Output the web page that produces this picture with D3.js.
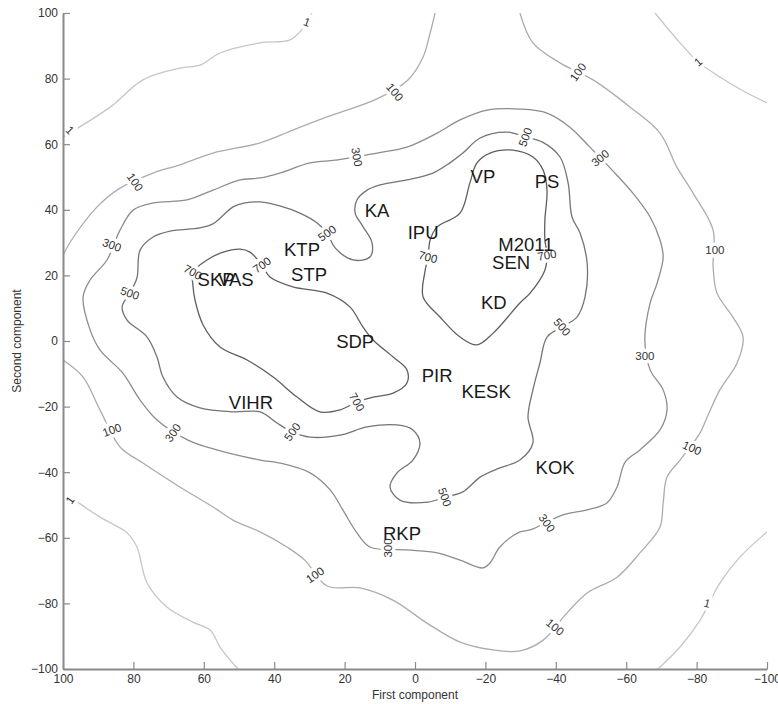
<!DOCTYPE html>
<html>
<head>
<meta charset="utf-8">
<script src="https://cdn.jsdelivr.net/npm/d3@7"></script>
<style>
  body { margin: 0; background: #fff; }
  text { font-family: "Liberation Sans", Arial, Helvetica, sans-serif; }
</style>
</head>
<body>
<div id="chart"></div>
<script>
// Dimensions and margins
const margin = {top: 13, right: 11, bottom: 35, left: 63},
    width = 778 - margin.left - margin.right,
    height = 704 - margin.top - margin.bottom;

// Contour levels
const levels = [1, 100, 300, 500, 700];

// Contour lines, [first component, second component]
const c1TopLeft = [[100,62.2],[86.6,71.3],[77.3,79.6],[66.8,83.2],[61.1,84.1],[55.4,87.8],[44.0,90.9],[35.5,91.8],[31.8,95.4],[29.3,100]];
const c1TopRight = [[-68.2,100],[-75.3,90.9],[-80.4,85.1],[-86.6,80.5],[-93.8,75.9],[-100,72.6]];
const c1BottomLeft = [[100,-46.0],[89.5,-53.7],[81.8,-58.5],[79.0,-62.8],[76.1,-73.8],[70.5,-81.1],[63.1,-85.7],[58.2,-88.1],[55.4,-93.3],[50.3,-100]];
const c1BottomRight = [[-69.0,-100],[-75.3,-93.3],[-81.0,-85.1],[-86.6,-73.8],[-92.3,-65.9],[-100,-58.2]];

const c100Top = [[100,26.2],[97.2,31.4],[90.3,40.9],[83.8,46.6],[74.4,51.2],[66.8,53.7],[57.4,57.3],[44.0,60.4],[34.7,64.3],[25.0,68.3],[10.8,73.8],[2.0,79.6],[-2.3,86.6],[-4.3,93.9],[-5.7,100]];
const c100Ring = [[-29.8,100],[-33.5,90.9],[-41.2,84.8],[-50.6,79.6],[-61.1,71.3],[-69.6,63.4],[-74.4,53.0],[-79.0,45.1],[-84.7,33.8],[-84.7,22.6],[-85.8,14.6],[-90.3,7.3],[-93.2,1.2],[-91.5,-6.7],[-86.6,-14.9],[-83.0,-23.2],[-81.0,-28.0],[-75.3,-36.3],[-71.6,-41.5],[-70.5,-49.4],[-69.6,-56.7],[-63.9,-64.6],[-57.4,-72.0],[-48.9,-76.8],[-43.2,-82.9],[-36.4,-91.2],[-29.8,-94.5],[-22.2,-94.2],[-12.8,-91.8],[-3.4,-86.0],[6.3,-79.0],[15.6,-75.3],[25.0,-74.7],[31.3,-66.8],[36.4,-62.8],[44.0,-58.2],[51.7,-54.6],[57.4,-50.6],[66.8,-44.5],[77.3,-37.2],[83.8,-32.3],[89.5,-21.0],[94.3,-11.0],[100,-5.8]];

const c300 = [[83.8,33.8],[80.1,39.9],[74.4,42.1],[64.8,43.0],[57.4,46.0],[49.7,49.1],[44.0,49.7],[38.4,51.2],[29.8,54.3],[21.9,55.2],[10.8,57.3],[2.3,59.1],[-6.3,63.4],[-12.8,67.4],[-20.5,70.4],[-29.8,70.7],[-37.5,69.5],[-44.0,65.2],[-49.7,59.1],[-56.0,52.1],[-61.9,45.1],[-66.8,37.8],[-69.6,30.8],[-70.5,25.6],[-68.8,17.7],[-66.8,11.6],[-65.3,0.3],[-66.8,-8.8],[-70.5,-14.9],[-71.6,-21.0],[-69.6,-27.1],[-63.9,-33.2],[-59.7,-36.9],[-57.4,-44.5],[-54.5,-49.4],[-48.9,-51.5],[-42.0,-53.0],[-32.7,-57.6],[-29.8,-58.2],[-24.1,-62.8],[-21.3,-67.7],[-19.3,-69.2],[-12.8,-66.8],[-6.3,-64.6],[2.3,-63.7],[12.8,-62.8],[16.5,-58.5],[20.5,-51.5],[24.1,-45.4],[29.8,-40.2],[38.4,-37.2],[44.0,-36.3],[56.3,-33.2],[64.5,-30.2],[73.3,-24.1],[78.1,-18.0],[83.0,-9.8],[89.5,-2.7],[92.3,3.4],[94.3,13.4],[92.3,18.6],[87.5,24.7]];

const c500 = [[81.0,14.6],[83.2,10.4],[81.8,6.4],[76.1,1.2],[73.3,-4.9],[71.6,-11.0],[67.6,-17.1],[61.1,-20.4],[51.7,-21.6],[44.0,-21.6],[39.2,-25.0],[34.9,-27.7],[29.8,-29.3],[21.3,-28.7],[13.6,-26.2],[5.1,-25.6],[0.6,-27.1],[-1.4,-31.1],[0.6,-36.3],[5.1,-40.2],[7.1,-44.5],[4.3,-48.5],[-3.7,-49.1],[-8.5,-47.6],[-13.6,-46.0],[-18.5,-41.5],[-24.1,-38.7],[-29.8,-36.3],[-33.5,-31.1],[-32.1,-23.2],[-33.5,-14.9],[-35.5,-6.7],[-37.5,1.2],[-41.8,4.3],[-46.0,7.3],[-48.3,13.4],[-48.9,23.8],[-46.9,32.9],[-44.6,37.8],[-43.5,48.2],[-41.2,56.1],[-36.1,60.7],[-31.3,62.2],[-26.1,63.7],[-18.5,61.9],[-13.6,57.3],[-9.9,54.3],[-5.1,51.2],[2.3,49.1],[9.9,47.6],[13.6,46.0],[16.5,43.0],[17.0,39.0],[15.1,35.4],[12.2,29.9],[12.8,25.6],[17.6,24.7],[22.7,28.4],[25.0,32.9],[27.8,36.0],[32.7,39.0],[38.4,41.2],[44.0,42.4],[48.3,42.1],[51.7,40.9],[57.4,35.7],[61.1,34.5],[69.6,33.5],[74.4,31.7],[78.1,27.7],[79.0,19.2]];

const c700Left = [[63.1,21.0],[59.1,24.7],[54.5,27.1],[49.7,28.0],[46.9,27.1],[43.5,23.2],[41.2,19.5],[34.7,16.5],[25.0,14.6],[18.5,10.4],[14.8,4.3],[11.9,0.3],[6.2,-4.9],[2.3,-8.8],[2.3,-12.8],[6.2,-15.9],[11.9,-17.1],[16.5,-18.6],[21.3,-21.0],[27.0,-21.6],[33.5,-17.1],[40.3,-11.0],[47.7,-5.8],[55.4,-1.8],[60.2,4.9],[62.5,12.5],[63.1,17.1]];
const c700Right = [[-3.7,25.6],[-2.8,21.0],[-2.3,13.4],[-7.1,7.3],[-12.8,1.2],[-17.6,-1.2],[-22.2,2.4],[-29.8,11.6],[-32.7,14.6],[-36.9,21.6],[-37.5,26.2],[-36.9,30.8],[-36.9,36.9],[-37.5,46.0],[-36.4,52.1],[-33.5,56.1],[-27.8,58.2],[-21.3,57.3],[-17.6,54.3],[-15.6,48.2],[-12.8,39.0],[-6.3,34.8],[-4.3,30.8]];

// [points, level, closed]
const contours = [
  [c1TopLeft, 1, false], [c1TopRight, 1, false], [c1BottomLeft, 1, false], [c1BottomRight, 1, false],
  [c100Top, 100, false], [c100Ring, 100, false],
  [c300, 300, true], [c500, 500, true],
  [c700Left, 700, true], [c700Right, 700, true]
];

// Inline contour labels: [x, y, level, rotation]
const contourLabels = [
  [98.0,64.3,1,45],[30.7,97.3,1,20],[-80.4,85.1,1,-40],[98.0,-48.5,1,-55],[-83.0,-79.9,1,15],
  [79.5,48.5,100,55],[5.7,75.9,100,50],[-46.3,82.0,100,-55],[-85.2,27.7,100,0],[-78.7,-32.6,100,25],[-39.8,-87.2,100,40],[28.4,-71.3,100,-35],[86.1,-27.1,100,-20],
  [86.1,29.3,300,20],[16.5,56.1,300,80],[-52.6,55.8,300,-40],[-65.3,-4.6,300,0],[-37.5,-55.5,300,55],[7.7,-63.1,300,-90],[68.8,-28.0,300,-55],
  [81.0,14.6,500,20],[25.0,32.9,500,-35],[-31.3,62.2,500,-70],[-41.8,4.3,500,50],[-8.5,-47.6,500,70],[34.9,-27.7,500,-55],
  [63.1,21.0,700,30],[43.5,23.2,700,-35],[16.5,-18.6,700,60],[-3.7,25.6,700,15],[-37.5,26.2,700,-10]
];

// Parties
const parties = ["VP","PS","KA","IPU","M2011","SEN","KD","KTP","STP","SKP","VAS","SDP","PIR","KESK","VIHR","KOK","RKP"];
const partyX = [-19.3,-37.5,10.8,-2.3,-31.5,-27.3,-22.4,32.1,30.1,56.5,50.9,17.0,-6.3,-20.2,46.6,-39.8,3.7];
const partyY = [50.3,48.8,39.9,33.2,29.6,24.1,11.9,28.0,20.4,18.9,18.9,0.0,-10.4,-15.2,-18.6,-38.4,-58.5];

// Ticks
const xTicks = [100,80,60,40,20,0,-20,-40,-60,-80,-100];
const yTicks = [-100,-80,-60,-40,-20,0,20,40,60,80,100];

const svg = d3.select("#chart")
  .append("svg")
    .attr("width", width + margin.left + margin.right)
    .attr("height", height + margin.top + margin.bottom)
  .append("g")
    .attr("transform", "translate(" + margin.left + "," + margin.top + ")");

const x = d3.scaleLinear().domain([100, -100]).range([0, width]);
const y = d3.scaleLinear().domain([-100, 100]).range([height, 0]);

// gray shade per level
const shade = d3.scaleLinear()
  .domain([1, 100, 300, 500, 700])
  .range(["#c6c6c6", "#acacac", "#8d8d8d", "#747474", "#5f5f5f"]);

svg.append("clipPath").attr("id", "plotclip")
  .append("rect").attr("width", width).attr("height", height);

const plot = svg.append("g").attr("clip-path", "url(#plotclip)");

contours.forEach(function(c) {
  const line = d3.line()
    .x(d => x(d[0]))
    .y(d => y(d[1]))
    .curve(c[2] ? d3.curveCatmullRomClosed : d3.curveCatmullRom);
  plot.append("path")
    .datum(c[0])
    .attr("fill", "none")
    .attr("stroke", shade(c[1]))
    .attr("stroke-width", 1.3)
    .attr("d", line);
});

// contour labels with white halo to break the line
plot.selectAll(".clabel")
  .data(contourLabels)
  .enter().append("text")
    .attr("class", "clabel")
    .attr("transform", d => `translate(${x(d[0])},${y(d[1])}) rotate(${d[3]})`)
    .attr("text-anchor", "middle")
    .attr("dy", "0.36em")
    .style("font-size", "11.5px")
    .style("fill", "#333")
    .style("stroke", "#fff")
    .style("stroke-width", 7)
    .style("paint-order", "stroke")
    .text(d => d[2]);

// party names
parties.forEach(function(p, i) {
  svg.append("text")
    .attr("x", x(partyX[i]))
    .attr("y", y(partyY[i]))
    .attr("dy", "0.36em")
    .attr("text-anchor", "middle")
    .style("font-size", "18.5px")
    .style("fill", "#1a1a1a")
    .text(p);
});

// Axes
const xAxis = svg.append("g")
  .attr("transform", "translate(0," + height + ")")
  .call(d3.axisBottom(x).tickValues(xTicks).tickSizeInner(-7).tickSizeOuter(0).tickPadding(5));
const yAxis = svg.append("g")
  .call(d3.axisLeft(y).tickValues(yTicks).tickSizeInner(-7).tickSizeOuter(0).tickPadding(5));

[xAxis, yAxis].forEach(function(a) {
  a.select(".domain").attr("stroke", "#8a8a8a").attr("stroke-width", 2);
  a.selectAll(".tick line").attr("stroke", "#8a8a8a").attr("stroke-width", 1.2);
  a.selectAll(".tick text")
    .style("font-family", "'Liberation Sans', Arial, Helvetica, sans-serif")
    .style("font-size", "12px")
    .style("fill", "#333");
});

// Axis labels
svg.append("text")
  .attr("x", width / 2)
  .attr("y", height + 30)
  .attr("text-anchor", "middle")
  .style("font-size", "12px")
  .style("fill", "#333")
  .text("First component");

svg.append("text")
  .attr("transform", "rotate(-90)")
  .attr("x", -(341 - margin.top))
  .attr("y", 17 - margin.left)
  .attr("dy", "0.35em")
  .attr("text-anchor", "middle")
  .style("font-size", "12px")
  .style("fill", "#333")
  .text("Second component");
</script>
</body>
</html>
